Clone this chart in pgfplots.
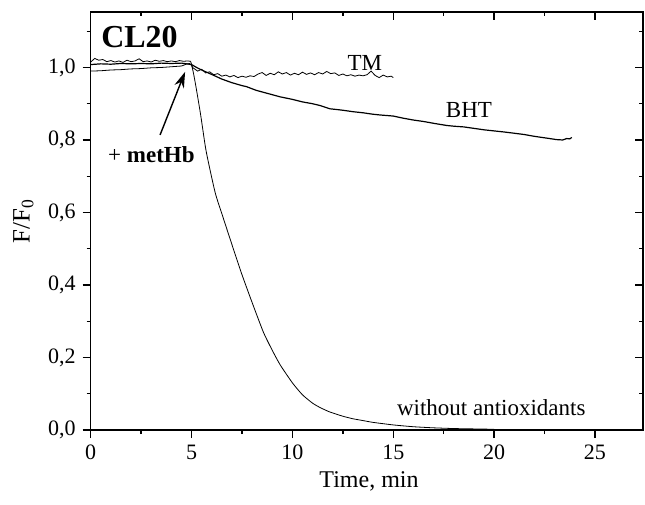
\documentclass[border=0pt]{standalone}
\usepackage{fontspec}
\setmainfont{Liberation Serif}
\usepackage{pgfplots}
\pgfplotsset{compat=1.18}
\usetikzlibrary{arrows.meta}

\begin{document}
\begin{tikzpicture}
\pgfplotsset{
  common/.style={
    scale only axis, width=276.15pt, height=209pt,
    xmin=0, xmax=27.38, ymin=0, ymax=1.153,
    xtick={0,5,10,15,20,25}, minor xtick={2.5,7.5,12.5,17.5,22.5},
    ytick={0,0.2,0.4,0.6,0.8,1.0}, minor ytick={0.1,0.3,0.5,0.7,0.9,1.1},
    major tick length=4pt, minor tick length=2pt,
    axis line style={line width=0.7pt},
    every tick/.style={black, line width=0.7pt},
    /pgf/number format/assume math mode=true,
  }
}
\begin{axis}[common,
  tick align=outside, xtick pos=left, ytick pos=left,
  xticklabel style={font=\fontsize{11}{13}\selectfont},
  yticklabel style={font=\fontsize{11}{13}\selectfont,
    /pgf/number format/.cd, use comma, fixed, fixed zerofill, precision=1},
  xlabel={Time, min},
  xlabel style={font=\fontsize{12}{14}\selectfont, at={(axis description cs:0.504,0)}, anchor=base, yshift=-28.5pt},
  ylabel={F/F\textsubscript{0}},
  ylabel style={font=\fontsize{12.5}{14}\selectfont, at={(axis description cs:-0.122,0.5)}, anchor=center},
  cycle list={{black, line width=0.6pt, no markers}},
]
% without antioxidants
\addplot+[smooth, tension=0.35] coordinates {
(0,0.990) (0.5,0.991) (1,0.993) (1.5,0.994) (2,0.996) (2.5,0.997) (3,0.999) (3.5,1.000) (4,1.002) (4.5,1.004) (5.0,1.006)
(5.42,0.880) (5.72,0.770) (6.17,0.655) (6.57,0.585) (7.07,0.500) (7.49,0.430) (7.98,0.355) (8.56,0.270)
(9.0,0.220) (9.39,0.180) (10.0,0.130) (10.5,0.097) (11.0,0.074) (11.37,0.062) (11.84,0.050) (12.5,0.038)
(13.0,0.031) (13.5,0.026) (14.0,0.021) (15.0,0.014) (16.0,0.009) (17.0,0.006) (18.0,0.004) (19.0,0.003) (20.0,0.002)
};
% BHT
\addplot coordinates {
(0,1.008) (0.5,1.010) (1,1.009) (1.5,1.011) (2,1.010) (2.5,1.011) (3,1.010) (3.5,1.012) (4,1.011) (4.5,1.012) (5,1.008)
(5.25,1.000) (5.5,0.993) (6.07,0.979) (6.5,0.968) (7,0.958) (7.5,0.950) (7.73,0.947) (8.2,0.937) (8.73,0.929)
(9.39,0.919) (10,0.912) (10.5,0.905) (11,0.900) (11.37,0.895) (11.86,0.886) (12.2,0.884) (12.5,0.882) (13,0.878)
(13.5,0.875) (14.0,0.871) (14.34,0.869) (15,0.866) (15.5,0.860) (16,0.855) (16.5,0.851) (17,0.846) (17.65,0.840)
(18,0.838) (18.5,0.836) (19,0.832) (19.5,0.828) (20,0.825) (20.5,0.822) (20.94,0.819) (21.5,0.815) (22,0.810)
(22.5,0.806) (23.1,0.801) (23.4,0.800) (23.6,0.804) (23.75,0.803) (23.85,0.807)
};
% TM
\addplot coordinates {
(0,1.015) (0.2,1.025) (0.4,1.020) (0.6,1.022) (0.8,1.016) (1.0,1.019) (1.2,1.015) (1.4,1.018) (1.6,1.014) (1.8,1.020)
(2.0,1.016) (2.2,1.018) (2.4,1.024) (2.6,1.016) (2.8,1.018) (3.0,1.015) (3.2,1.020) (3.4,1.017) (3.6,1.019) (3.8,1.016)
(4.0,1.018) (4.2,1.016) (4.4,1.019) (4.6,1.017) (4.8,1.018) (4.95,1.017) (5.05,1.000) (5.3,0.990) (5.5,0.995) (5.7,0.985)
(5.9,0.988) (6.1,0.980) (6.3,0.983) (6.5,0.976) (6.7,0.979) (6.9,0.974) (7.1,0.978) (7.3,0.972) (7.5,0.976) (7.7,0.973)
(7.9,0.977) (8.1,0.975) (8.3,0.982) (8.5,0.986) (8.7,0.978) (8.9,0.984) (9.1,0.980) (9.3,0.988) (9.5,0.982) (9.7,0.986)
(9.9,0.979) (10.1,0.984) (10.3,0.980) (10.5,0.987) (10.7,0.981) (10.9,0.985) (11.1,0.980) (11.3,0.986) (11.5,0.982)
(11.7,0.989) (11.9,0.983) (12.1,0.985) (12.3,0.978) (12.5,0.982) (12.7,0.977) (12.9,0.980) (13.1,0.976) (13.3,0.979)
(13.5,0.977) (13.7,0.980) (13.9,0.990) (14.1,0.978) (14.3,0.972) (14.5,0.979) (14.7,0.974) (14.9,0.976) (15.0,0.972)
};
\node[font=\fontsize{16}{18}\selectfont\bfseries] at (axis cs:2.42,1.083) {CL20};
\node[font=\fontsize{11.5}{13}\selectfont] at (axis cs:13.59,1.012) {TM};
\node[font=\fontsize{11.5}{13}\selectfont] at (axis cs:18.75,0.883) {BHT};
\node[font=\fontsize{11.5}{13}\selectfont] at (axis cs:3.01,0.759) {+ \textbf{metHb}};
\node[font=\fontsize{11.5}{13}\selectfont] at (axis cs:19.86,0.061) {without antioxidants};
\draw[line width=0.7pt, -{Stealth[length=8pt,width=5pt]}] (axis cs:3.44,0.814) -- (axis cs:4.68,0.988);
\end{axis}
\begin{axis}[common,
  tick align=inside, xtick pos=right, ytick pos=right,
  xticklabels={}, yticklabels={},
]
\coordinate (sw) at (rel axis cs:0,0);
\coordinate (ne) at (rel axis cs:1,1);
\end{axis}
\pgfresetboundingbox
\path ([shift={(-45.35pt,-37.5pt)}]sw) rectangle ([shift={(1pt,6pt)}]ne);
\end{tikzpicture}
\end{document}
